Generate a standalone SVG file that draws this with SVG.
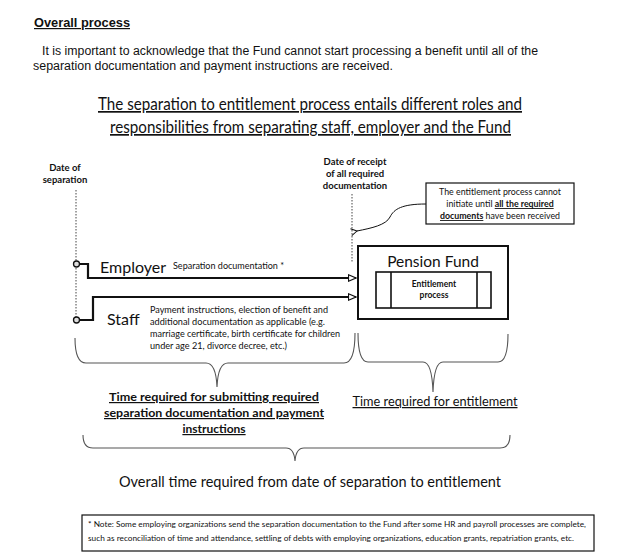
<svg xmlns="http://www.w3.org/2000/svg" width="640" height="556" viewBox="0 0 640 556">
<style>
.ar{font-family:"Liberation Sans",Arial,sans-serif;fill:#111}
.ca{font-family:Lato,"Open Sans",sans-serif;fill:#111}
.b{font-weight:bold}
.u{text-decoration:underline}
.dot{stroke:#444;stroke-width:1;stroke-dasharray:1.5 1.5;fill:none}
.brace{stroke:#555;stroke-width:1.1;fill:none}
.flow{stroke:#111;stroke-width:2.2;fill:none}
.box{stroke:#111;fill:#fff}
</style>
<defs>
<marker id="open" markerWidth="9" markerHeight="8" refX="8" refY="4" orient="auto" markerUnits="userSpaceOnUse">
<path d="M0.5,0.8 L8,4 L0.5,7.2 Z" fill="#fff" stroke="#111" stroke-width="1.2"/>
</marker>
<marker id="vee" markerWidth="8" markerHeight="8" refX="1" refY="4" orient="auto-start-reverse" markerUnits="userSpaceOnUse">
<path d="M7,0.5 L1,4 L7,7.5" fill="none" stroke="#111" stroke-width="1"/>
</marker>
</defs>
<rect width="640" height="556" fill="#fff"/>

<g id="header">
<text x="34" y="27" class="ar b u" font-size="12" textLength="96" lengthAdjust="spacingAndGlyphs">Overall process</text>
<text x="42" y="55" class="ar" font-size="12" textLength="496" lengthAdjust="spacingAndGlyphs">It is important to acknowledge that the Fund cannot start processing a benefit until all of the</text>
<text x="33" y="70" class="ar" font-size="12" textLength="360" lengthAdjust="spacingAndGlyphs">separation documentation and payment instructions are received.</text>
</g>

<g id="title">
<text x="98" y="110" class="ca u" font-size="17" textLength="424" lengthAdjust="spacingAndGlyphs">The separation to entitlement process entails different roles and</text>
<text x="110" y="133" class="ca u" font-size="17" textLength="401" lengthAdjust="spacingAndGlyphs">responsibilities from separating staff, employer and the Fund</text>
</g>

<g id="date-separation">
<text x="65" y="171" class="ca b" font-size="9.5" text-anchor="middle">Date of</text>
<text x="65" y="183" class="ca b" font-size="9.5" text-anchor="middle">separation</text>
<line x1="76" y1="190" x2="76" y2="318" class="dot"/>
</g>

<g id="date-receipt">
<text x="355" y="165" class="ca b" font-size="9.5" text-anchor="middle">Date of receipt</text>
<text x="355" y="177" class="ca b" font-size="9.5" text-anchor="middle">of all required</text>
<text x="355" y="189" class="ca b" font-size="9.5" text-anchor="middle">documentation</text>
<line x1="352" y1="194" x2="352" y2="262" class="dot"/>
</g>

<g id="callout">
<rect x="426" y="183" width="148" height="41" class="box" stroke-width="1.2"/>
<text x="500" y="195" class="ca" font-size="8.8" text-anchor="middle">The entitlement process cannot</text>
<text x="500" y="207" class="ca" font-size="8.8" text-anchor="middle">initiate until <tspan class="b u">all the required</tspan></text>
<text x="500" y="219" class="ca" font-size="8.8" text-anchor="middle"><tspan class="b u">documents</tspan> have been received</text>
</g>

<g id="pension-fund">
<rect x="358" y="246" width="150" height="73" class="box" stroke-width="2"/>
<text x="433" y="267" class="ca" font-size="15.5" text-anchor="middle">Pension Fund</text>
<rect x="376" y="272" width="115" height="36" class="box" stroke-width="1.6"/>
<line x1="391" y1="272" x2="391" y2="308" stroke="#111" stroke-width="1.6"/>
<line x1="477" y1="272" x2="477" y2="308" stroke="#111" stroke-width="1.6"/>
<text x="434" y="287" class="ca b" font-size="8.5" text-anchor="middle">Entitlement</text>
<text x="434" y="298" class="ca b" font-size="8.5" text-anchor="middle">process</text>
</g>

<g id="employer">
<text x="100" y="273" class="ca" font-size="16">Employer</text>
<text x="173" y="269" class="ca" font-size="8.6" textLength="111" lengthAdjust="spacingAndGlyphs">Separation documentation *</text>
</g>

<g id="staff">
<text x="107" y="325" class="ca" font-size="16">Staff</text>
<text x="150" y="313" class="ca" font-size="8.8" textLength="178" lengthAdjust="spacingAndGlyphs">Payment instructions,  election of benefit and</text>
<text x="150" y="325" class="ca" font-size="8.8" textLength="175" lengthAdjust="spacingAndGlyphs">additional documentation as applicable (e.g.</text>
<text x="150" y="337" class="ca" font-size="8.8" textLength="190" lengthAdjust="spacingAndGlyphs">marriage certificate, birth certificate for children</text>
<text x="150" y="349" class="ca" font-size="8.8" textLength="137" lengthAdjust="spacingAndGlyphs">under age 21, divorce decree, etc.)</text>
</g>

<g id="connectors">
<path d="M79,264 L88,264 L88,278 L356,278" class="flow" marker-end="url(#open)"/>
<path d="M79,320 L93,320 L93,297 L356,297" class="flow" marker-end="url(#open)"/>
<circle cx="76.5" cy="264" r="3" fill="#ddd" stroke="#111" stroke-width="1.3"/>
<circle cx="76.5" cy="320" r="3" fill="#ddd" stroke="#111" stroke-width="1.3"/>
<path d="M426,204 C402,204 394,209 390,217 C386,225 372,228 357,231" fill="none" stroke="#111" stroke-width="1" marker-end="url(#vee)"/>
</g>

<g id="braces">
<path d="M75,338 Q75,363 86,363 L206,363 Q216,363 217,387 Q218,363 228,363 L344,363 Q355,363 355,333" class="brace"/>
<path d="M358,333 Q358,362 368,362 L423,362 Q432,362 433,392 Q434,362 443,362 L498,362 Q508,362 508,334" class="brace"/>
<path d="M83,435 Q83,448 93,448 L286,448 Q294,448 295,461 Q296,448 304,448 L500,448 Q510,448 510,435" class="brace"/>
</g>

<g id="time-submit">
<text x="214" y="401" class="ca b u" font-size="12" text-anchor="middle" textLength="210" lengthAdjust="spacingAndGlyphs">Time required for submitting required</text>
<text x="214" y="417" class="ca b u" font-size="12" text-anchor="middle" textLength="220" lengthAdjust="spacingAndGlyphs">separation documentation and payment</text>
<text x="214" y="433" class="ca b u" font-size="12" text-anchor="middle">instructions</text>
</g>

<g id="time-entitlement">
<text x="435" y="406" class="ca u" font-size="12.5" text-anchor="middle" textLength="165" lengthAdjust="spacingAndGlyphs">Time required for entitlement</text>
</g>

<g id="overall">
<text x="310" y="487" class="ca" font-size="16" text-anchor="middle" textLength="382" lengthAdjust="spacingAndGlyphs">Overall time required from date of separation to entitlement</text>
</g>

<g id="note">
<rect x="82" y="515" width="512" height="36" class="box" stroke-width="1.2"/>
<text x="88" y="527" class="ca" font-size="7" textLength="498" lengthAdjust="spacingAndGlyphs">* Note: Some employing organizations send the separation documentation to the Fund after some HR and payroll processes are complete,</text>
<text x="88" y="541" class="ca" font-size="7" textLength="486" lengthAdjust="spacingAndGlyphs">such as reconciliation of time and attendance,  settling of debts with employing organizations, education grants, repatriation grants, etc.</text>
</g>
</svg>
